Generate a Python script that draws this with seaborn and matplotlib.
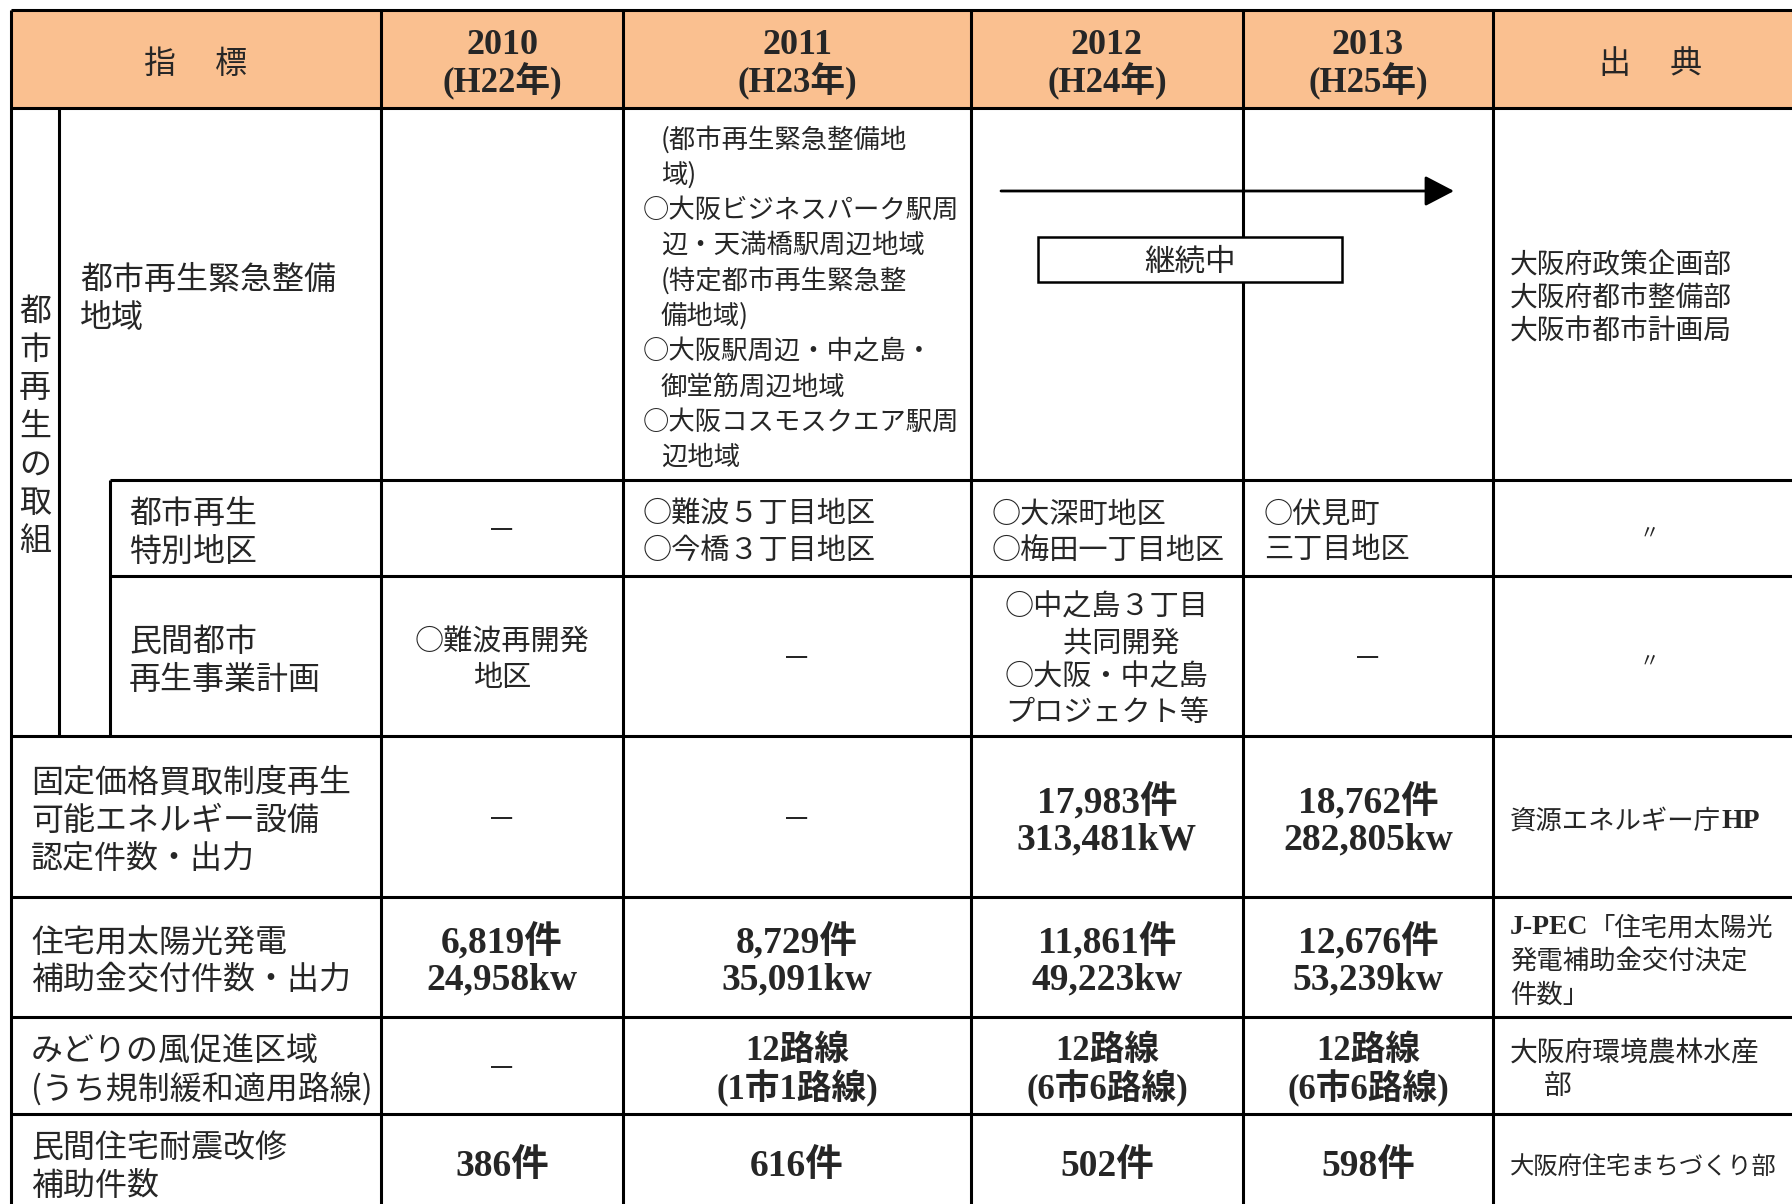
import re
import matplotlib
matplotlib.use("Agg")
import matplotlib.pyplot as plt
from matplotlib.patches import Rectangle
import seaborn as sns

# ---- table content ----
header_left = "指　 標"
header_right = "出　 典"
years = ["2010", "2011", "2012", "2013"]
eras = ["(H22年)", "(H23年)", "(H24年)", "(H25年)"]

group_label = "都市再生の取組"

row_labels = [
    ["都市再生緊急整備", "地域"],
    ["都市再生", "特別地区"],
    ["民間都市", "再生事業計画"],
    ["固定価格買取制度再生", "可能エネルギー設備", "認定件数・出力"],
    ["住宅用太陽光発電", "補助金交付件数・出力"],
    ["みどりの風促進区域", "(うち規制緩和適用路線)"],
    ["民間住宅耐震改修", "補助件数"],
]

urgent_zone_2011 = [
    "(都市再生緊急整備地", "域)",
    "○大阪ビジネスパーク駅周", "辺・天満橋駅周辺地域",
    "(特定都市再生緊急整", "備地域)",
    "○大阪駅周辺・中之島・", "御堂筋周辺地域",
    "○大阪コスモスクエア駅周", "辺地域",
]
urgent_zone_status = "継続中"

special_district = [["－"], ["○難波５丁目地区", "○今橋３丁目地区"],
                    ["○大深町地区", "○梅田一丁目地区"], ["○伏見町", "三丁目地区"]]
private_plan = [["○難波再開発", "地区"], ["－"],
                ["○中之島３丁目", "　共同開発", "○大阪・中之島", "プロジェクト等"], ["－"]]
fit_certified = [["－"], ["－"], ["17,983件", "313,481kW"], ["18,762件", "282,805kw"]]
solar_subsidy = [["6,819件", "24,958kw"], ["8,729件", "35,091kw"],
                 ["11,861件", "49,223kw"], ["12,676件", "53,239kw"]]
midori_routes = [["－"], ["12路線", "(1市1路線)"], ["12路線", "(6市6路線)"], ["12路線", "(6市6路線)"]]
quake_retrofit = [["386件"], ["616件"], ["502件"], ["598件"]]

sources = [
    ["大阪府政策企画部", "大阪府都市整備部", "大阪市都市計画局"],
    ["〃"],
    ["〃"],
    ["資源エネルギー庁HP"],
    ["J-PEC「住宅用太陽光", "発電補助金交付決定", "件数」"],
    ["大阪府環境農林水産", "　 部"],
    ["大阪府住宅まちづくり部"],
]
source_sizes = [20, 14, 14, 19, 19, 20, 17.5]

# ---- layout (pixels) ----
col_edges = [11, 59, 110, 381, 623, 971, 1243, 1493, 1792]
row_edges = [10, 108, 480, 576, 736, 897, 1017, 1114, 1210]
W, H = 1792, 1204
DY = 4.5  # optical shift of text centres
header_color = "#FAC090"
CJK = ["Noto Sans CJK JP", "DejaVu Sans"]
SERIF = ["Liberation Serif", "Noto Sans CJK JP"]

sns.set_theme(style="white")
plt.rcParams["font.family"] = CJK

fig = plt.figure(figsize=(W / 100, H / 100), dpi=100)
ax = fig.add_axes([0, 0, 1, 1])
ax.set_xlim(0, W)
ax.set_ylim(H, 0)
ax.axis("off")


def lines_at(x, yc, lines, pitch, ha="center", **kw):
    n = len(lines)
    for i, s in enumerate(lines):
        ax.text(x, yc + DY + (i - (n - 1) / 2) * pitch, s, ha=ha, va="center", **kw)


def source_line(x, y, s, size):
    # latin words in bold serif, the rest in gothic
    prev = None
    for run in re.findall(r"[A-Za-z\-]+|[^A-Za-z\-]+", s):
        latin = re.fullmatch(r"[A-Za-z\-]+", run) is not None
        kw = dict(family=SERIF, weight="bold", fontsize=size + 1) if latin else dict(family=CJK, fontsize=size)
        if prev is None:
            prev = ax.text(x, y + DY, run, ha="left", va="center", **kw)
        else:
            prev = ax.annotate(run, xy=(1, 0.5), xycoords=prev, ha="left", va="center", **kw)


# header background
ax.add_patch(Rectangle((col_edges[0], row_edges[0]), W - col_edges[0],
                       row_edges[1] - row_edges[0], color=header_color, zorder=0))

# grid
lw = 2.2
for y in [row_edges[0], row_edges[1]] + row_edges[4:8]:
    ax.hlines(y, col_edges[0], W, color="black", lw=lw)
for y in row_edges[2:4]:
    ax.hlines(y, col_edges[2], W, color="black", lw=lw)
ax.vlines(col_edges[0], row_edges[0], H, color="black", lw=lw)
ax.vlines(col_edges[1], row_edges[1], row_edges[4], color="black", lw=lw)
ax.vlines(col_edges[2], row_edges[2], row_edges[4], color="black", lw=lw)
for x in col_edges[3:8]:
    ax.vlines(x, row_edges[0], H, color="black", lw=lw)

# header texts
hy = (row_edges[0] + row_edges[1]) / 2 + DY
ax.text((col_edges[0] + col_edges[3]) / 2, hy, header_left, ha="center", va="center", fontsize=23)
ax.text(1651, hy, header_right, ha="center", va="center", fontsize=23)
year_x = [(col_edges[i] + col_edges[i + 1]) / 2 for i in range(3, 7)]
for x, yr, era in zip(year_x, years, eras):
    ax.text(x, 45, yr, ha="center", va="center", family=SERIF, weight="bold", fontsize=26)
    ax.text(x, 81, era, ha="center", va="center", family=SERIF, weight="bold", fontsize=25)

# vertical group label
gc = (row_edges[1] + row_edges[4]) / 2 + DY
n = len(group_label)
for i, ch in enumerate(group_label):
    ax.text((col_edges[0] + col_edges[1]) / 2, gc + (i - (n - 1) / 2) * 38.3, ch,
            ha="center", va="center", fontsize=23)

# row labels
row_mid = [(row_edges[i] + row_edges[i + 1]) / 2 for i in range(1, 8)]
label_x = [80, 129, 129, 31, 31, 31, 31]
for x, yc, lab in zip(label_x, row_mid, row_labels):
    lines_at(x, yc, lab, 38, ha="left", fontsize=23)

# row 1: urgent development zone
n = len(urgent_zone_2011)
for i, s in enumerate(urgent_zone_2011):
    x = 643 if s.startswith("○") else 661
    ax.text(x, row_mid[0] + DY + (i - (n - 1) / 2) * 35.3, s, ha="left", va="center", fontsize=19)
ax.annotate("", xy=(1454, 191), xytext=(1001, 191),
            arrowprops=dict(arrowstyle="-|>,head_length=0.9,head_width=0.47",
                            mutation_scale=20, lw=2, color="black", shrinkA=0, shrinkB=0),
            zorder=4)
ax.add_patch(Rectangle((1038, 237), 304, 45, facecolor="white", edgecolor="black", lw=1.8, zorder=5))
ax.text(1190, 260 + DY / 2, urgent_zone_status, ha="center", va="center", fontsize=22, zorder=6)

# row 2: special districts
left_x = [None, 643, 992, 1264]
for x_c, x_l, cell in zip(year_x, left_x, special_district):
    if x_l is None or cell == ["－"]:
        lines_at(x_c, row_mid[1], cell, 36, fontsize=21)
    else:
        lines_at(x_l, row_mid[1], cell, 36, ha="left", fontsize=21)

# row 3: private plans
for x, cell in zip(year_x, private_plan):
    lines_at(x, row_mid[2], cell, 35, fontsize=21)

# numeric rows
for r, data, size in [(3, fit_certified, 27), (4, solar_subsidy, 27),
                      (5, midori_routes, 25), (6, quake_retrofit, 27)]:
    for x, cell in zip(year_x, data):
        if cell == ["－"]:
            lines_at(x, row_mid[r], cell, 38, fontsize=21)
        else:
            lines_at(x, row_mid[r], cell, 37, family=SERIF, weight="bold", fontsize=size)

# sources
src_x = 1510
for r, (src, size) in enumerate(zip(sources, source_sizes)):
    if src == ["〃"]:
        ax.text(1649, row_mid[r] + DY, "〃", ha="center", va="center", fontsize=size)
        continue
    n = len(src)
    for i, s in enumerate(src):
        source_line(src_x, row_mid[r] + (i - (n - 1) / 2) * 33.5, s, size)

fig.savefig("out.png", dpi=100)
